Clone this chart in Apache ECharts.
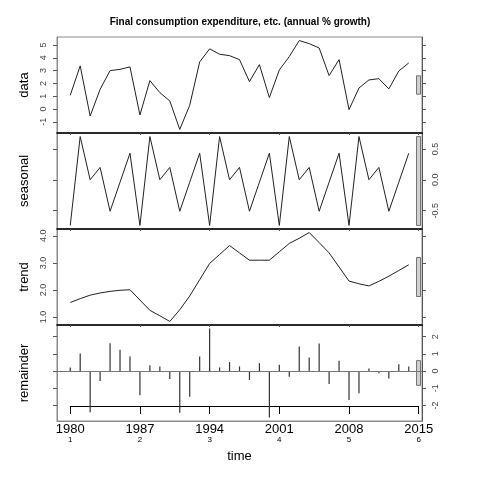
<!DOCTYPE html>
<html>
<head>
    <meta charset="utf-8">
    <script type="text/javascript" src="https://cdn.jsdelivr.net/npm/echarts@6/dist/echarts.min.js"></script>
</head>
<body style="margin:0">
<div id="main" style="width:480px;height:480px;"></div>
<script type="text/javascript">
    // years of the series (frequency 7, cycle 1 starts 1980)
    var years = [1980, 1981, 1982, 1983, 1984, 1985, 1986, 1987, 1988, 1989,
        1990, 1991, 1992, 1993, 1994, 1995, 1996, 1997, 1998, 1999,
        2000, 2001, 2002, 2003, 2004, 2005, 2006, 2007, 2008, 2009,
        2010, 2011, 2012, 2013, 2014];
    // observed values
    var dataVals = [1.07, 3.37, -0.55, 1.54, 3.00, 3.10, 3.29, -0.47, 2.22, 1.28,
        0.63, -1.60, 0.29, 3.68, 4.70, 4.28, 4.17, 3.86, 2.14, 3.47,
        0.89, 3.05, 4.10, 5.35, 5.11, 4.77, 2.61, 3.86, -0.05, 1.64,
        2.27, 2.37, 1.57, 2.97, 3.60];
    var seasonalVals = [-0.74, 0.70, 0.00, 0.20, -0.51, -0.04, 0.43,
        -0.74, 0.70, 0.00, 0.20, -0.51, -0.04, 0.43,
        -0.74, 0.70, 0.00, 0.20, -0.51, -0.04, 0.43,
        -0.74, 0.70, 0.00, 0.20, -0.51, -0.04, 0.43,
        -0.74, 0.70, 0.00, 0.20, -0.51, -0.04, 0.43];
    var trendVals = [1.54, 1.68, 1.81, 1.89, 1.95, 1.99, 2.01, 1.63, 1.25, 1.05,
        0.84, 1.27, 1.78, 2.38, 2.98, 3.31, 3.64, 3.37, 3.10, 3.10,
        3.10, 3.41, 3.72, 3.91, 4.12, 3.75, 3.37, 2.85, 2.33, 2.23,
        2.15, 2.32, 2.51, 2.72, 2.93];
    var remainderVals = [0.21, 1.02, -2.40, -0.58, 1.62, 1.24, 0.85, -1.41, 0.33, 0.27,
        -0.46, -2.43, -1.49, 0.85, 2.47, 0.21, 0.52, 0.27, -0.52, 0.46,
        -2.70, 0.37, -0.33, 1.43, 0.79, 1.60, -0.75, 0.60, -1.68, -1.29,
        0.14, -0.13, -0.44, 0.39, 0.27];

    // tick labels
    var timeTicks = [1980, 1987, 1994, 2001, 2008, 2015];
    var cycleLabels = ['1', '2', '3', '4', '5', '6'];
    var dataTicks = [-1, 0, 1, 2, 3, 4, 5];
    var seasonalTicks = [-0.5, 0, 0.5];
    var trendTicks = [1, 2, 3, 4];
    var remainderTicks = [-2, -1, 0, 1, 2];

    var panelNames = ['data', 'seasonal', 'trend', 'remainder'];
    var panelVals = [dataVals, seasonalVals, trendVals, remainderVals];
    var panelTicks = [dataTicks, seasonalTicks, trendTicks, remainderTicks];
    var panelDigits = [0, 1, 1, 0];

    var xMin = 1978.67, xMax = 2015.33;
    var gridLeft = 57, gridRight = 58, panelTop = 37, panelH = 96;
    var font = 'Liberation Sans, Arial, sans-serif';

    function padRange(arr) {
        var lo = Math.min.apply(null, arr), hi = Math.max.apply(null, arr);
        var d = (hi - lo) * 0.04;
        return [lo - d, hi + d];
    }
    function rangeOf(arr) {
        return Math.max.apply(null, arr) - Math.min.apply(null, arr);
    }
    // grey scale bar: same length in every panel (range of seasonal)
    var barLen = Math.min.apply(null, panelVals.map(rangeOf));

    var myChart = echarts.init(document.getElementById('main'));

    var grids = [], xAxes = [], yAxes = [], series = [];
    for (var i = 0; i < 4; i++) {
        var last = i === 3;
        grids.push({
            left: gridLeft, right: gridRight, top: panelTop + i * panelH, height: panelH,
            show: true, borderColor: '#8a8a8a', borderWidth: 1
        });
        xAxes.push({
            gridIndex: i, type: 'value', min: xMin, max: xMax,
            splitLine: {show: false},
            axisLine: {show: true, onZero: false, lineStyle: {color: last ? '#8a8a8a' : '#000', width: last ? 1 : 1.6}},
            axisTick: {show: !last, length: 2, customValues: timeTicks, lineStyle: {color: '#555'}},
            axisLabel: {
                show: last, margin: 2, customValues: timeTicks,
                formatter: function (v) {
                    var k = timeTicks.indexOf(v);
                    return '{a|' + v + '}\n{b|' + cycleLabels[k] + '}';
                },
                rich: {
                    a: {fontSize: 13, fontFamily: font, color: '#000', lineHeight: 12},
                    b: {fontSize: 8, fontFamily: font, color: '#000', lineHeight: 9}
                }
            },
            name: last ? 'time' : '', nameLocation: 'middle', nameGap: 29,
            nameTextStyle: {fontSize: 13, fontFamily: font, color: '#000'}
        });
        var rng = padRange(panelVals[i]);
        var labelsRight = (i % 2 === 1);
        var digits = panelDigits[i];
        var fmt = function (d) { return function (v) { return v.toFixed(d); }; }(digits);
        [false, true].forEach(function (isRight) {
            var withLabels = isRight === labelsRight;
            yAxes.push({
                gridIndex: i, type: 'value', min: rng[0], max: rng[1],
                position: isRight ? 'right' : 'left',
                splitLine: {show: false},
                axisLine: {show: true, lineStyle: {color: isRight ? '#555' : '#8a8a8a', width: 1}},
                axisTick: {show: true, length: 4, customValues: panelTicks[i], lineStyle: {color: '#555'}},
                axisLabel: {
                    show: withLabels, rotate: 90, margin: 9, customValues: panelTicks[i],
                    formatter: fmt, fontSize: 9, fontFamily: font, color: '#444'
                },
                name: isRight ? '' : panelNames[i], nameLocation: 'middle', nameGap: 26,
                nameTextStyle: {fontSize: 13, fontFamily: font, color: '#000'}
            });
        });
        var pts = years.map(function (y, k) { return [y, panelVals[i][k]]; });
        if (!last) {
            series.push({
                type: 'line', xAxisIndex: i, yAxisIndex: i * 2, data: pts,
                symbol: 'none', lineStyle: {color: '#222', width: 1}, silent: true
            });
        } else {
            series.push({
                type: 'bar', xAxisIndex: i, yAxisIndex: i * 2, data: pts,
                barWidth: 1.2, itemStyle: {color: '#333'}, silent: true,
                markLine: {
                    silent: true, symbol: 'none', label: {show: false},
                    lineStyle: {color: '#777', type: 'solid', width: 1},
                    data: [{yAxis: 0}]
                }
            });
        }
        var mid = (rng[0] + rng[1]) / 2;
        series.push({
            type: 'custom', xAxisIndex: i, yAxisIndex: i * 2, clip: false, silent: true,
            data: [[mid, barLen / 2]],
            renderItem: function (params, api) {
                var c = api.value(0), h = api.value(1);
                var p1 = api.coord([xMax, c + h]);
                var p2 = api.coord([xMax, c - h]);
                return {
                    type: 'rect',
                    shape: {x: p1[0] - 5.5, y: p1[1], width: 4, height: p2[1] - p1[1]},
                    style: {fill: '#d0d0d0', stroke: '#555', lineWidth: 0.8}
                };
            }
        });
    }

    // the time axis line drawn inside the remainder panel
    var pxPerYear = (480 - gridLeft - gridRight) / (xMax - xMin);
    grids.push({
        left: gridLeft + (timeTicks[0] - xMin) * pxPerYear,
        right: gridRight + (xMax - timeTicks[timeTicks.length - 1]) * pxPerYear,
        top: 405, height: 1
    });
    xAxes.push({
        gridIndex: 4, type: 'value', min: timeTicks[0], max: timeTicks[timeTicks.length - 1],
        splitLine: {show: false},
        axisLine: {show: true, lineStyle: {color: '#000', width: 1}},
        axisTick: {show: true, length: 8, customValues: timeTicks, lineStyle: {color: '#000'}},
        axisLabel: {show: false}
    });
    yAxes.push({gridIndex: 4, type: 'value', show: false});

    var option = {
        animation: false,
        backgroundColor: '#fff',
        title: {
            text: 'Final consumption expenditure, etc. (annual % growth)',
            left: 'center', top: 12,
            textStyle: {fontSize: 10, fontWeight: 'bold', fontFamily: font, color: '#000'}
        },
        grid: grids,
        xAxis: xAxes,
        yAxis: yAxes,
        series: series
    };
    myChart.setOption(option);
</script>
</body>
</html>
